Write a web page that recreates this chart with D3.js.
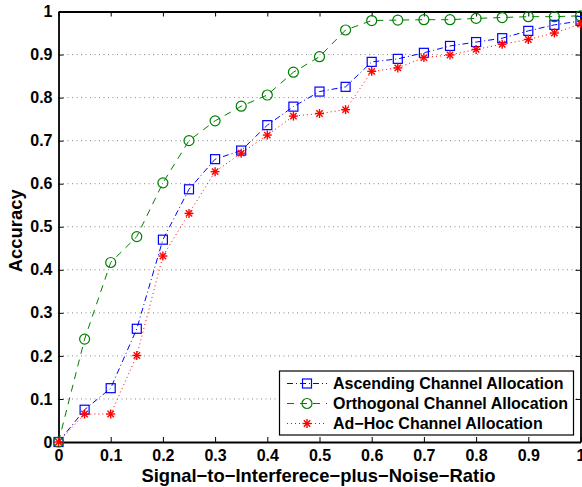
<!DOCTYPE html>
<html><head><meta charset="utf-8">
<script src="https://cdn.jsdelivr.net/npm/d3@7"></script>
<style>body{margin:0;background:#fff;} svg{display:block;}</style>
</head><body>
<script>
const xValues = [0,0.05,0.1,0.15,0.2,0.25,0.3,0.35,0.4,0.45,0.5,0.55,0.6,0.65,0.7,0.75,0.8,0.85,0.9,0.95,1.0];
const ascending = [0,0.075,0.125,0.263,0.47,0.587,0.657,0.677,0.736,0.779,0.814,0.825,0.883,0.890,0.904,0.920,0.929,0.938,0.955,0.969,0.978];
const orthogonal = [0,0.239,0.417,0.477,0.602,0.700,0.746,0.780,0.806,0.859,0.895,0.957,0.979,0.980,0.981,0.981,0.984,0.986,0.988,0.988,0.990];
const adhoc = [0,0.065,0.065,0.201,0.432,0.531,0.628,0.671,0.713,0.757,0.763,0.772,0.861,0.869,0.893,0.899,0.912,0.924,0.935,0.950,0.971];
const xTicks = [0,0.1,0.2,0.3,0.4,0.5,0.6,0.7,0.8,0.9,1];
const yTicks = [0,0.1,0.2,0.3,0.4,0.5,0.6,0.7,0.8,0.9,1];
const seriesNames = ["Ascending Channel Allocation","Orthogonal Channel Allocation","Ad\u2212Hoc Channel Allocation"];

const W=582,H=487;
const svg=d3.select("body").append("svg").attr("width",W).attr("height",H);
const x=d3.scaleLinear().domain([0,1]).range([58.5,580.5]);
const y=d3.scaleLinear().domain([0,1]).range([442,11.5]);
const font="'Liberation Sans', Arial, Helvetica, sans-serif";

// grid
svg.append("g").selectAll("line").data(yTicks.slice(1,-1)).join("line")
  .attr("x1",x(0)).attr("x2",x(1)).attr("y1",d=>y(d)).attr("y2",d=>y(d))
  .attr("stroke","#888").attr("stroke-width",1).attr("stroke-dasharray","1,3.5");

// axes
const fmt=d=>d===0?"0":d===1?"1":d3.format(".1f")(d);
const axB=svg.append("g").attr("transform",`translate(0,${y(0)})`)
  .call(d3.axisBottom(x).tickValues(xTicks).tickFormat(fmt).tickSizeInner(-5).tickSizeOuter(0).tickPadding(8));
const axL=svg.append("g").attr("transform",`translate(${x(0)},0)`)
  .call(d3.axisLeft(y).tickValues(yTicks).tickFormat(fmt).tickSizeInner(-5).tickSizeOuter(0).tickPadding(6));
const axT=svg.append("g").attr("transform",`translate(0,${y(1)})`)
  .call(d3.axisTop(x).tickValues(xTicks).tickFormat("").tickSizeInner(-5).tickSizeOuter(0));
const axR=svg.append("g").attr("transform",`translate(${x(1)},0)`)
  .call(d3.axisRight(y).tickValues(yTicks).tickFormat("").tickSizeInner(-5).tickSizeOuter(0));
[axB,axL,axT,axR].forEach(g=>{
  g.select(".domain").attr("stroke","#000").attr("stroke-width",1.8);
  g.selectAll(".tick line").attr("stroke","#000").attr("stroke-width",1);
  g.selectAll("text").attr("font-family",font).attr("font-weight","bold").attr("font-size",16).attr("fill","#000");
});

// axis titles
svg.append("text").attr("x",(x(0)+x(1))/2-1).attr("y",482).attr("text-anchor","middle")
  .attr("font-family",font).attr("font-weight","bold").attr("font-size",18.4).text("Signal\u2212to\u2212Interferece\u2212plus\u2212Noise\u2212Ratio");
svg.append("text").attr("transform",`translate(22,${(y(0)+y(1))/2+4}) rotate(-90)`).attr("text-anchor","middle")
  .attr("font-family",font).attr("font-weight","bold").attr("font-size",18.4).text("Accuracy");

const series=[
  {name:seriesNames[0],vals:ascending,color:"#0000ff",dash:"6,3,1,3",marker:"square"},
  {name:seriesNames[1],vals:orthogonal,color:"#008000",dash:"7,6",marker:"circle"},
  {name:seriesNames[2],vals:adhoc,color:"#ff0000",dash:"1,3",marker:"star"}
];
const line=d3.line().x(d=>x(d[0])).y(d=>y(d[1]));
function drawMarker(g,type,color,cx,cy){
  if(type==="square"){
    g.append("rect").attr("x",cx-4.5).attr("y",cy-4.5).attr("width",9).attr("height",9)
      .attr("fill","none").attr("stroke",color).attr("stroke-width",1.2);
  } else if(type==="circle"){
    g.append("circle").attr("cx",cx).attr("cy",cy).attr("r",5)
      .attr("fill","none").attr("stroke",color).attr("stroke-width",1.2);
  } else {
    const r=4.5;
    for(let a=0;a<4;a++){
      const t=a*Math.PI/4;
      g.append("line").attr("x1",cx-r*Math.cos(t)).attr("y1",cy-r*Math.sin(t))
        .attr("x2",cx+r*Math.cos(t)).attr("y2",cy+r*Math.sin(t))
        .attr("stroke",color).attr("stroke-width",1.4);
    }
  }
}
series.forEach(s=>{
  const pts=xValues.map((xv,i)=>[xv,s.vals[i]]);
  const g=svg.append("g");
  g.append("path").attr("d",line(pts)).attr("fill","none").attr("stroke",s.color)
    .attr("stroke-width",1).attr("stroke-dasharray",s.dash);
  pts.forEach(p=>drawMarker(g,s.marker,s.color,x(p[0]),y(p[1])));
});

// legend
const lg=svg.append("g");
lg.append("rect").attr("x",279.5).attr("y",371).attr("width",294).attr("height",64)
  .attr("fill","#fff").attr("stroke","#000").attr("stroke-width",1.2);
series.forEach((s,i)=>{
  const cy=383.5+i*20;
  lg.append("line").attr("x1",287).attr("x2",327).attr("y1",cy).attr("y2",cy)
    .attr("stroke",s.color).attr("stroke-width",1).attr("stroke-dasharray",s.dash);
  drawMarker(lg,s.marker,s.color,307,cy);
  lg.append("text").attr("x",333).attr("y",cy+5.5).attr("font-family",font).attr("font-weight","bold")
    .attr("font-size",16).text(s.name);
});
</script>
</body></html>
